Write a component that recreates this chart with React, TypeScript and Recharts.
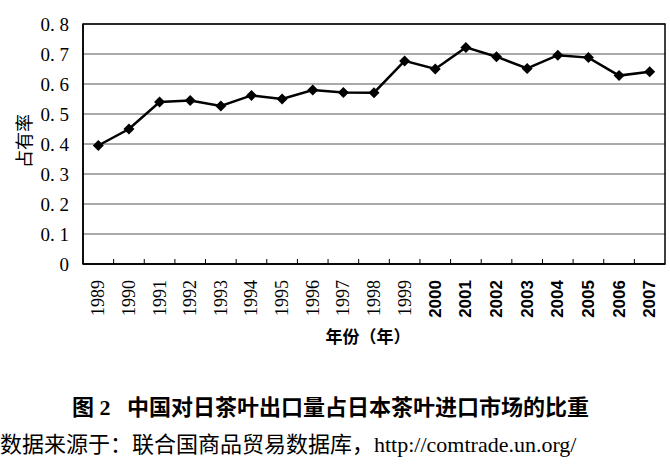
import { LineChart, Line, XAxis, YAxis, CartesianGrid, ReferenceArea } from 'recharts';

const years = ['1989', '1990', '1991', '1992', '1993', '1994', '1995', '1996', '1997', '1998',
  '1999', '2000', '2001', '2002', '2003', '2004', '2005', '2006', '2007'];
const share = [0.395, 0.45, 0.54, 0.545, 0.527, 0.562, 0.55, 0.58, 0.572, 0.571,
  0.677, 0.65, 0.722, 0.691, 0.652, 0.696, 0.688, 0.628, 0.641];
const yTicks = [0, 0.1, 0.2, 0.3, 0.4, 0.5, 0.6, 0.7, 0.8];

const data = years.map((year, i) => ({ year, value: share[i] }));

const SERIF = '"Liberation Serif", "Noto Sans CJK SC", serif';
const SANS = '"Liberation Sans", Arial, sans-serif';

// half of one category band (plot is 582px wide for 19 years)
const HALF_BAND = 582 / 19 / 2;

function YearTick(props: any) {
  const { x, y, payload, index } = props;
  const serif = Number(payload.value) < 2000;
  const ty = y + 16;
  return (
    <g>
      {index > 0 && <line x1={x - HALF_BAND} x2={x - HALF_BAND} y1={y} y2={y - 5} stroke="#000" />}
      <text
        x={x}
        y={ty}
        transform={`rotate(-90, ${x}, ${ty})`}
        textAnchor="end"
        dominantBaseline="central"
        fontFamily={serif ? SERIF : SANS}
        fontWeight={serif ? 400 : 700}
        fontSize={serif ? 18 : 17}
        fill="#000"
      >
        {payload.value}
      </text>
    </g>
  );
}

function Diamond(props: any) {
  const { cx, cy } = props;
  if (cx == null || cy == null) return null;
  const r = 5.5;
  return <polygon points={`${cx},${cy - r} ${cx + r},${cy} ${cx},${cy + r} ${cx - r},${cy}`} fill="#000" />;
}

export default function App() {
  return (
    <div style={{ position: 'absolute', left: 0, top: 0, width: 670, height: 470, background: '#fff' }}>
      <LineChart width={670} height={470} data={data} margin={{ top: 24, right: 5, left: 33, bottom: 146 }}>
        <CartesianGrid vertical={false} stroke="#555" strokeWidth={1} />
        <ReferenceArea y1={0} y2={0.8} fill="none" stroke="#000" strokeWidth={1.5} />
        <XAxis
          dataKey="year"
          scale="band"
          height={60}
          tickSize={0}
          tickMargin={0}
          interval={0}
          axisLine={{ stroke: '#000', strokeWidth: 1.5 }}
          tick={<YearTick />}
        />
        <YAxis
          width={50}
          domain={[0, 0.8]}
          ticks={yTicks}
          tickSize={0}
          tickMargin={14}
          axisLine={{ stroke: '#000', strokeWidth: 1.5 }}
          tick={{ fontFamily: SERIF, fontSize: 19, fill: '#000' }}
          tickFormatter={(v: number) => (v === 0 ? '0' : v.toFixed(1).replace('.', '. '))}
        />
        <Line
          type="linear"
          dataKey="value"
          stroke="#000"
          strokeWidth={2.5}
          dot={<Diamond />}
          activeDot={false}
          isAnimationActive={false}
        />
      </LineChart>
      <div
        style={{
          position: 'absolute', left: 23, top: 141, transform: 'translate(-50%, -50%) rotate(-90deg)',
          fontFamily: SERIF, fontSize: 18, whiteSpace: 'nowrap', color: '#000',
        }}
      >
        占有率
      </div>
      <div
        style={{
          position: 'absolute', left: 368, top: 335, transform: 'translate(-50%, -50%)',
          fontFamily: SERIF, fontSize: 17, fontWeight: 700, whiteSpace: 'nowrap', color: '#000',
        }}
      >
        年份（年）
      </div>
      <div
        style={{
          position: 'absolute', left: 72, top: 405, transform: 'translateY(-50%)',
          fontFamily: SERIF, fontSize: 22, fontWeight: 700, whiteSpace: 'nowrap', color: '#000',
        }}
      >
        图 2&nbsp;&nbsp;&nbsp;中国对日茶叶出口量占日本茶叶进口市场的比重
      </div>
      <div
        style={{
          position: 'absolute', left: 0, top: 442, transform: 'translateY(-50%)',
          fontFamily: SERIF, fontSize: 22, whiteSpace: 'nowrap', color: '#000',
        }}
      >
        数据来源于：联合国商品贸易数据库，http://comtrade.un.org/
      </div>
    </div>
  );
}
